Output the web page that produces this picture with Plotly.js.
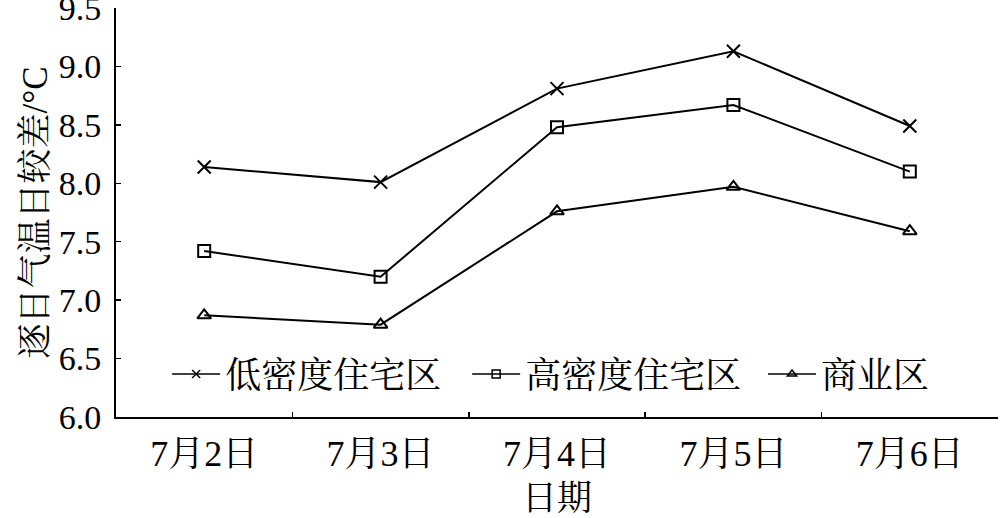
<!DOCTYPE html>
<html><head><meta charset="utf-8">
<script src="https://cdn.plot.ly/plotly-3.0.1.min.js"></script>
<style>body{margin:0;background:#fff}#c{width:1000px;height:518px}</style>
</head><body><div id="c"></div>
<script>
const dates = ['7月2日','7月3日','7月4日','7月5日','7月6日'];
const seriesNames = ['低密度住宅区','高密度住宅区','商业区'];
const lowDensity = [8.14, 8.01, 8.81, 9.13, 8.49];
const highDensity = [7.42, 7.20, 8.48, 8.67, 8.10];
const commercial = [6.87, 6.79, 7.76, 7.97, 7.59];
const yTicks = [6.0, 6.5, 7.0, 7.5, 8.0, 8.5, 9.0, 9.5];
const yTickText = ['6.0','6.5','7.0','7.5','8.0','8.5','9.0','9.5'];

const FONT = '"Liberation Serif", "Times New Roman", "Noto Serif CJK SC", "Noto Sans CJK SC", serif';
const symbols = ['x-thin-open','square-open','triangle-up-open'];
const legendIds = ['legend','legend','legend2'];
const values = [lowDensity, highDensity, commercial];
const traces = [];
values.forEach((v,i)=>{
  traces.push({x:dates, y:v, type:'scatter', mode:'lines+markers', name:seriesNames[i],
    showlegend:false, legendgroup:'g'+i,
    line:{color:'#000', width:2},
    marker:{symbol:symbols[i], size:i===0?13:12, color:'#000', line:{color:'#000', width:2}}});
});
values.forEach((v,i)=>{
  traces.push({x:[dates[0]], y:[null], type:'scatter', mode:'lines+markers', name:seriesNames[i],
    legendgroup:'g'+i, legend:legendIds[i],
    line:{color:'#000', width:1.5},
    marker:{symbol:symbols[i], size:8, color:'#000', line:{color:'#000', width:1.5}}});
});

const legFont = {family:FONT, size:36, color:'#000'};
const layout = {
  width:1000, height:518,
  margin:{l:116, r:2, t:8, b:101},
  paper_bgcolor:'#fff', plot_bgcolor:'#fff',
  font:{family:FONT, size:30, color:'#000'},
  showlegend:true,
  legend:{orientation:'h', x:0.058, y:0.105, xanchor:'left', yanchor:'middle',
    font:legFont, itemwidth:48, bgcolor:'rgba(0,0,0,0)',
    entrywidth:237, entrywidthmode:'pixels', tracegroupgap:0},
  legend2:{orientation:'h', x:0.7336, y:0.105, xanchor:'left', yanchor:'middle',
    font:legFont, itemwidth:48, bgcolor:'rgba(0,0,0,0)', tracegroupgap:0},
  xaxis:{type:'category', range:[-0.5,4.5], showline:true, linecolor:'#000', linewidth:2,
    ticks:'inside', tickson:'boundaries', ticklen:5, tickwidth:1.5, tickcolor:'#000',
    showgrid:false, zeroline:false, tickfont:{family:FONT, size:36}, ticklabelstandoff:4,
    title:{text:'日期', font:{family:FONT, size:35}, standoff:12}},
  yaxis:{range:[6.0,9.5], showline:true, linecolor:'#000', linewidth:2,
    ticks:'inside', ticklen:5, tickwidth:1.5, tickcolor:'#000',
    tickvals:yTicks, ticktext:yTickText, showgrid:false, zeroline:false,
    tickfont:{family:FONT, size:34}, ticklabelstandoff:6, ticklabeloverflow:'allow',
    title:{text:'逐日气温日较差/°C', font:{family:FONT, size:35}, standoff:0}}
};
Plotly.newPlot('c', traces, layout, {staticPlot:true});
</script></body></html>
